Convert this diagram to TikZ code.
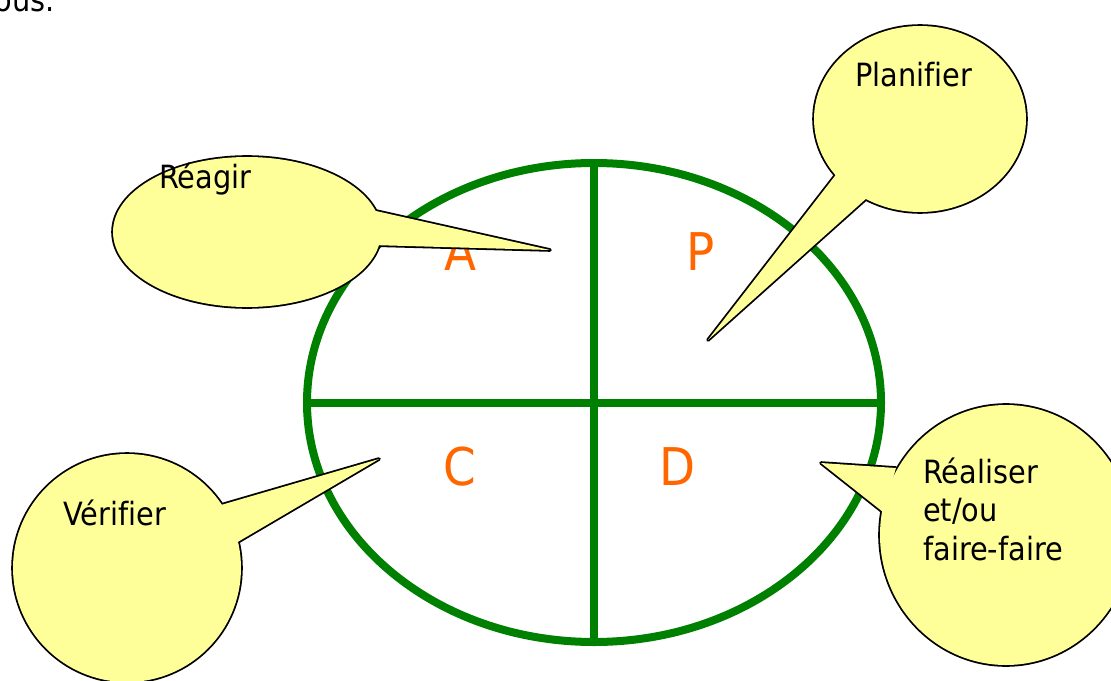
\documentclass[tikz,border=0pt]{standalone}
\usepackage{fontspec}
\setmainfont{DejaVu Sans}[FakeStretch=0.9,Ligatures=NoCommon]
\usetikzlibrary{shapes.geometric}
\definecolor{cvert}{RGB}{0,128,0}
\definecolor{corange}{RGB}{255,102,0}
\definecolor{cjaune}{RGB}{255,255,153}
\tikzset{pdca/.style={x=1pt,y=-1pt,font=\fontsize{32}{38.5}\selectfont},
  roue/.style={ellipse,draw=cvert,line width=8pt,inner sep=0pt,outer sep=0pt},
  axe/.style={cvert,line width=8pt},
  lettre/.style={corange,inner sep=0pt,font=\fontsize{52}{52}\selectfont},
  bulletrait/.style={black,line width=3.6pt,line join=round},
  bullefond/.style={fill=cjaune},
  bulletexte/.style={inner sep=0pt,anchor=base west,align=left}}

\begin{document}
\begin{tikzpicture}[pdca]
    \useasboundingbox (0,0) rectangle (1111,680);
    \node[anchor=base east,inner sep=0pt] (tous) at (55,11) {tous.};
    \node[roue,minimum width=574,minimum height=479] (roue) at (594,402.5) {};
    \draw[axe] (roue.north) -- (roue.south);
    \draw[axe] (roue.west) -- (roue.east);
    \node[lettre] (A) at (461,252) {A};
    \node[lettre] (P) at (701,252) {P};
    \node[lettre] (C) at (460,467) {C};
    \node[lettre] (D) at (678,467) {D};
    % bulles : centre / rayons / base de la pointe / pointe
    \foreach \cx/\cy/\rx/\ry/\ax/\ay/\bx/\by/\tx/\ty in {
        247/232/134/75/376/211/371/245/550/250,
        920/119/106/93/838/172/868/197/708/340,
        127/568/114/114/221/505/236/543/379/459,
        1006/535/126/130/896/468/883/512/821/463}{
      \draw[bulletrait] (\cx,\cy) ellipse [x radius=\rx,y radius=\ry]
        (\ax,\ay) -- (\tx,\ty) -- (\bx,\by);
      \fill[bullefond] (\cx,\cy) ellipse [x radius=\rx,y radius=\ry];
      \fill[bullefond] (\ax,\ay) -- (\tx,\ty) -- (\bx,\by) -- cycle;
    }
    \node[bulletexte] (reagir) at (159,188) {Réagir};
    \node[bulletexte] (planifier) at (855,86) {Planifier};
    \node[bulletexte] (verifier) at (63,525) {Vérifier};
    \node[bulletexte] (realiser) at (923,560) {Réaliser\\et/ou\\faire-faire};
  \end{tikzpicture}
\end{document}
